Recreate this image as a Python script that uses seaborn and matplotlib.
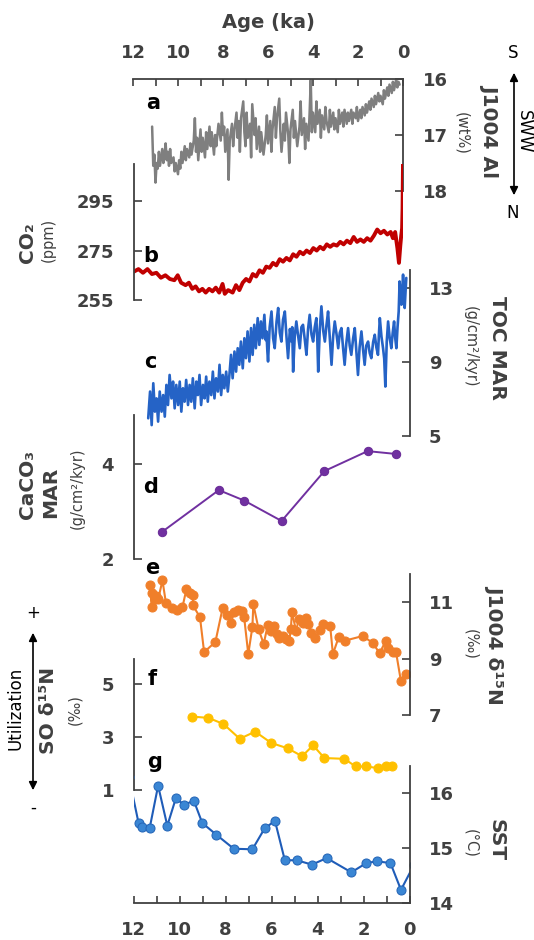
import seaborn as sns
import matplotlib.pyplot as plt
from matplotlib.patches import FancyArrowPatch

W, H = 534, 940

# ---------------- data (age in ka BP) ----------------
al_age = [11.15, 11.10, 11.05, 11.00, 10.95, 10.90, 10.85, 10.80, 10.70, 10.65, 10.60, 10.55, 10.50,
          10.45, 10.40, 10.35, 10.30, 10.20, 10.15, 10.10, 10.00, 9.95, 9.90, 9.85, 9.80, 9.70, 9.65,
          9.60, 9.50, 9.45, 9.40, 9.30, 9.25, 9.20, 9.15, 9.10, 9.00, 8.95, 8.90, 8.80, 8.75, 8.70,
          8.60, 8.55, 8.50, 8.40, 8.35, 8.30, 8.20, 8.10, 8.05, 8.00, 7.95, 7.90, 7.80, 7.75, 7.70,
          7.60, 7.55, 7.50, 7.40, 7.35, 7.30, 7.25, 7.20, 7.10, 7.05, 7.00, 6.95, 6.90, 6.80, 6.75,
          6.70, 6.60, 6.55, 6.50, 6.40, 6.35, 6.30, 6.20, 6.10, 6.05, 6.00, 5.90, 5.85, 5.80, 5.70,
          5.65, 5.60, 5.50, 5.45, 5.40, 5.30, 5.25, 5.20, 5.10, 5.05, 5.00, 4.90, 4.85, 4.80, 4.70,
          4.60, 4.55, 4.50, 4.40, 4.35, 4.30, 4.20, 4.15, 4.10, 4.05, 4.00, 3.90, 3.85, 3.80, 3.70,
          3.65, 3.60, 3.50, 3.45, 3.40, 3.30, 3.25, 3.20, 3.10, 3.05, 3.00, 2.90, 2.85, 2.80, 2.70,
          2.65, 2.60, 2.50, 2.45, 2.40, 2.30, 2.25, 2.20, 2.10, 2.05, 2.00, 1.90, 1.85, 1.80, 1.70,
          1.65, 1.60, 1.50, 1.45, 1.40, 1.30, 1.25, 1.20, 1.10, 1.05, 1.00, 0.90, 0.85, 0.80, 0.70,
          0.65, 0.60, 0.50, 0.45, 0.40, 0.30, 0.25, 0.20, 0.15]
al_wt = [16.85, 17.55, 17.35, 17.85, 17.50, 17.60, 17.30, 17.55, 17.25, 17.50, 17.35, 17.15, 17.45,
         17.30, 17.55, 17.25, 17.50, 17.40, 17.65, 17.50, 17.70, 17.45, 17.60, 17.30, 17.50, 17.20, 17.45,
         17.25, 17.40, 17.15, 17.35, 17.10, 16.70, 17.30, 17.05, 17.45, 16.90, 17.30, 17.05, 17.40, 16.95, 17.25,
         16.85, 17.20, 16.95, 17.35, 17.00, 17.20, 16.80, 17.10, 16.60, 17.00, 16.85, 17.30, 16.90, 17.80, 17.10,
         16.80, 17.20, 16.95, 16.60, 17.05, 16.75, 17.30, 16.70, 16.40, 16.95, 17.20, 16.60, 17.05, 16.80, 17.40,
         16.45, 17.00, 16.70, 17.25, 16.85, 17.30, 16.95, 17.35, 17.00, 16.65, 17.15, 16.75, 17.30, 16.90, 16.50,
         17.05, 16.70, 16.35, 16.95, 17.30, 16.80, 17.10, 16.60, 17.00, 17.50, 16.90, 16.55, 17.05, 16.75, 17.20,
         16.85, 16.40, 17.00, 16.70, 17.25, 16.80, 17.10, 16.60, 16.02, 16.95, 16.60, 16.95, 16.40, 16.80, 16.55,
         17.05, 16.65, 16.90, 16.50, 16.75, 16.95, 16.55, 16.85, 16.60, 16.90, 16.70, 16.95, 16.55, 16.80, 16.60,
         16.85, 16.55, 16.80, 16.60, 16.75, 16.55, 16.80, 16.60, 16.70, 16.50, 16.75, 16.55, 16.70, 16.50, 16.65,
         16.45, 16.60, 16.40, 16.55, 16.35, 16.50, 16.30, 16.45, 16.25, 16.40, 16.30, 16.45, 16.20, 16.35, 16.15,
         16.30, 16.10, 16.25, 16.05, 16.20, 16.00, 16.15, 16.05, 16.10]

co2_age = [12.0, 11.8, 11.6, 11.4, 11.2, 11.0, 10.8, 10.6, 10.4, 10.2, 10.05, 9.9, 9.7, 9.55, 9.4,
           9.25, 9.1, 8.95, 8.8, 8.65, 8.5, 8.35, 8.2, 8.05, 7.95, 7.8, 7.6, 7.45, 7.3, 7.15, 7.0,
           6.85, 6.7, 6.55, 6.4, 6.25, 6.1, 5.95, 5.8, 5.65, 5.5, 5.35, 5.2, 5.05, 4.9, 4.75, 4.6,
           4.45, 4.3, 4.15, 4.0, 3.85, 3.7, 3.55, 3.4, 3.25, 3.1, 2.95, 2.8, 2.65, 2.5, 2.35, 2.2,
           2.05, 1.9, 1.75, 1.6, 1.45, 1.3, 1.15, 1.0, 0.85, 0.7, 0.55, 0.45, 0.35, 0.25, 0.18,
           0.12, 0.08, 0.04, 0.02, 0.0]
co2_ppm = [266.5, 267.5, 266.0, 267.5, 265.5, 266.0, 264.0, 265.0, 263.5, 263.0, 265.0, 262.0, 261.0,
           262.0, 259.5, 260.5, 258.5, 259.5, 258.0, 259.5, 258.5, 260.0, 258.0, 261.5, 257.5, 259.0,
           258.0, 261.0, 259.0, 262.0, 263.5, 262.5, 265.5, 264.5, 267.0, 266.0, 268.5, 268.0, 270.0,
           269.0, 271.5, 270.5, 272.0, 271.0, 273.5, 272.5, 274.5, 273.5, 275.0, 274.0, 276.0, 275.0,
           276.5, 275.5, 277.5, 276.5, 277.5, 277.0, 278.5, 277.5, 279.0, 278.0, 280.5, 278.5, 279.5,
           278.5, 280.0, 279.0, 281.0, 283.5, 282.0, 283.0, 281.5, 282.5, 280.0, 282.5, 276.0, 270.0,
           277.0, 281.0, 284.0, 292.0, 310.0]

toc_age = [11.36, 11.28, 11.21, 11.14, 11.07, 11.00, 10.93, 10.86, 10.78, 10.71, 10.64, 10.57, 10.50,
           10.43, 10.35, 10.28, 10.21, 10.14, 10.06, 9.99, 9.92, 9.85, 9.78, 9.71, 9.63, 9.56, 9.49,
           9.42, 9.34, 9.27, 9.20, 9.13, 9.06, 8.98, 8.91, 8.84, 8.77, 8.70, 8.62, 8.55, 8.48, 8.41,
           8.33, 8.26, 8.19, 8.12, 8.05, 7.97, 7.90, 7.83, 7.76, 7.69, 7.61, 7.54, 7.47, 7.40, 7.33,
           7.25, 7.18, 7.11, 7.04, 6.96, 6.89, 6.82, 6.75, 6.68, 6.60, 6.53, 6.46, 6.39, 6.31, 6.25,
           6.22, 6.18, 6.15, 6.08, 6.00, 5.93, 5.86, 5.78, 5.71, 5.64, 5.57, 5.50, 5.42, 5.35, 5.28,
           5.20, 5.13, 5.10, 5.06, 4.99, 4.92, 4.85, 4.77, 4.70, 4.63, 4.55, 4.48, 4.41, 4.34, 4.26,
           4.19, 4.12, 4.05, 4.01, 3.97, 3.90, 3.83, 3.75, 3.68, 3.61, 3.54, 3.46, 3.39, 3.32, 3.25,
           3.17, 3.10, 3.03, 2.96, 2.89, 2.82, 2.75, 2.67, 2.60, 2.53, 2.45, 2.38, 2.31, 2.24, 2.17,
           2.09, 2.02, 1.95, 1.88, 1.80, 1.73, 1.66, 1.58, 1.51, 1.44, 1.37, 1.33, 1.29, 1.22, 1.15,
           1.10, 1.05, 0.99, 0.93, 0.86, 0.79, 0.73, 0.67, 0.62, 0.57, 0.52, 0.47, 0.45, 0.43, 0.39,
           0.35, 0.31, 0.28, 0.24, 0.21, 0.17, 0.14]
toc_mar = [5.96, 7.41, 5.59, 7.86, 6.32, 7.04, 5.78, 7.41, 6.32, 7.22, 6.05, 7.77, 6.68,
           8.31, 7.04, 7.95, 6.50, 7.77, 6.68, 7.95, 6.32, 7.59, 6.86, 8.04, 6.68, 7.77, 6.86,
           8.13, 6.50, 7.95, 7.22, 8.31, 6.68, 7.77, 7.04, 8.22, 6.86, 7.95, 7.22, 8.49, 7.04, 8.13,
           7.41, 8.86, 7.22, 8.31, 7.59, 8.49, 7.41, 8.31, 9.40, 8.13, 9.58, 8.49, 9.76, 8.86, 10.12,
           8.67, 10.30, 9.22, 10.67, 9.04, 10.85, 9.40, 11.03, 9.76, 11.39, 9.94, 11.21, 10.30, 11.57, 10.20,
           10.67, 9.60, 9.04, 10.90, 11.75, 10.30, 9.76, 11.20, 11.94, 10.60, 10.12, 11.30, 11.75, 10.40, 9.22,
           10.80, 10.12, 10.90, 8.49, 10.40, 11.21, 10.50, 9.76, 10.90, 11.03, 10.20, 9.40, 10.80, 11.57, 10.50,
           10.12, 10.90, 11.39, 10.30, 8.49, 10.80, 12.03, 10.70, 10.12, 11.00, 11.75, 10.20, 8.86, 10.40, 11.21,
           10.50, 9.76, 10.60, 10.85, 9.80, 8.86, 10.00, 10.85, 9.90, 9.40, 10.30, 10.85, 9.60, 8.31, 9.80,
           10.67, 9.70, 8.86, 9.90, 10.12, 9.50, 9.22, 10.10, 10.49, 9.80, 9.40, 10.50, 11.39, 10.40, 9.76,
           9.20, 7.68, 10.10, 11.21, 10.30, 9.76, 10.60, 11.21, 10.30, 9.76, 10.90, 11.75, 12.60, 13.38, 12.70,
           12.12, 13.00, 13.75, 12.80, 11.94, 12.90, 13.57]

caco3_age = [10.76, 8.29, 7.19, 5.56, 3.70, 1.82, 0.59]
caco3_mar = [2.57, 3.45, 3.23, 2.80, 3.85, 4.27, 4.21]

j1004_d15n_age = [11.30, 11.20, 11.20, 11.08, 11.01, 10.93, 10.74, 10.59, 10.34, 10.12, 9.87, 9.70, 9.53,
                  9.41, 9.42, 9.11, 8.93, 8.44, 8.12, 7.92, 7.75, 7.63, 7.45, 7.30, 7.19, 7.01, 6.83,
                  6.79, 6.56, 6.34, 6.16, 6.04, 5.90, 5.75, 5.67, 5.52, 5.38, 5.23, 5.16, 5.11, 4.93,
                  4.81, 4.64, 4.49, 4.41, 4.27, 4.12, 3.90, 3.75, 3.45, 3.33, 3.08, 2.79, 2.04, 1.60,
                  1.30, 1.04, 0.93, 0.71, 0.59, 0.37, 0.16]
j1004_d15n = [11.62, 10.83, 11.32, 11.13, 11.22, 11.10, 11.77, 10.97, 10.81, 10.71, 10.83, 11.46, 11.32,
              11.25, 10.89, 10.47, 9.23, 9.59, 10.81, 10.53, 10.28, 10.65, 10.71, 10.69, 10.47, 9.16, 10.13,
              10.93, 10.04, 9.52, 10.20, 9.98, 10.16, 9.86, 9.74, 9.80, 9.68, 9.62, 10.04, 10.65, 9.98,
              10.41, 10.28, 10.44, 10.22, 9.92, 9.74, 10.01, 10.22, 10.16, 9.16, 9.76, 9.64, 9.80, 9.56,
              9.19, 9.62, 9.37, 9.25, 9.25, 8.19, 8.47]

so_d15n_age = [9.45, 8.74, 8.09, 7.38, 6.71, 6.01, 5.30, 4.67, 4.19, 3.70, 2.83, 2.34, 1.90, 1.35, 1.04, 0.74]
so_d15n = [3.78, 3.73, 3.50, 2.94, 3.21, 2.78, 2.58, 2.28, 2.69, 2.21, 2.18, 1.89, 1.89, 1.83, 1.89, 1.89]

sst_age = [12.20, 11.78, 11.63, 11.30, 10.93, 10.53, 10.16, 9.79, 9.38, 9.01, 8.41, 7.64, 6.83,
           6.30, 5.85, 5.42, 4.90, 4.24, 3.60, 2.53, 1.87, 1.42, 0.83, 0.37, -0.20]
sst = [16.30, 15.46, 15.38, 15.36, 16.14, 15.41, 15.91, 15.79, 15.87, 15.46, 15.25, 14.99, 14.98,
       15.36, 15.50, 14.78, 14.78, 14.70, 14.82, 14.56, 14.73, 14.76, 14.73, 14.24, 14.70]

age_major = [12, 10, 8, 6, 4, 2, 0]
age_minor = [11, 9, 7, 5, 3, 1]

# ---------------- style ----------------
sns.set_style("white")
plt.rcParams['font.family'] = ['DejaVu Sans']
AX = '#404040'
TICK_FS = 13

fig = plt.figure(figsize=(W / 100, H / 100), dpi=100)


def panel(x0, x1, y0, y1, ylim, side, yticks):
    ax = fig.add_axes([x0 / W, 1 - y1 / H, (x1 - x0) / W, (y1 - y0) / H])
    ax.patch.set_visible(False)
    ax.set_xlim(12, 0)
    ax.set_ylim(*ylim)
    for s in ['top', 'bottom', 'left', 'right']:
        ax.spines[s].set_visible(s == side)
        ax.spines[s].set_color(AX)
        ax.spines[s].set_linewidth(1.3)
    ax.set_xticks([])
    if side == 'right':
        ax.yaxis.tick_right()
    else:
        ax.yaxis.tick_left()
    ax.set_yticks(yticks, labels=[str(t) for t in yticks], fontweight='bold')
    ax.tick_params(axis='y', direction='in', length=6, width=1.2, color=AX,
                   labelsize=TICK_FS, labelcolor=AX, pad=14)
    ax.set_xlabel('')
    ax.set_ylabel('')
    return ax


def age_axis(ax, where):
    ax.spines[where].set_visible(True)
    ax.spines[where].set_color(AX)
    ax.spines[where].set_linewidth(1.3)
    if where == 'top':
        ax.xaxis.tick_top()
    else:
        ax.xaxis.tick_bottom()
    ax.set_xticks(age_major, labels=[str(t) for t in age_major], fontweight='bold')
    ax.set_xticks(age_minor, minor=True)
    ax.tick_params(axis='x', which='both', direction='in', length=5, width=1.2, color=AX,
                   labelsize=TICK_FS, labelcolor=AX, pad=12 if where == 'top' else 13)


# a: J1004 Al
ax_a = panel(133, 403, 79, 191, (18, 16), 'right', [16, 17, 18])
sns.lineplot(x=al_age, y=al_wt, ax=ax_a, color='#7f7f7f', lw=1.8, estimator=None, sort=False)
age_axis(ax_a, 'top')
ax_a.set_ylim(18, 16)

# b: CO2
ax_b = panel(134, 403, 164, 300, (255, 310), 'left', [255, 275, 295])
sns.lineplot(x=co2_age, y=co2_ppm, ax=ax_b, color='#c00000', lw=2.8, estimator=None, sort=False)
ax_b.set_xticks([])

# c: TOC MAR
ax_c = panel(133.5, 409.5, 270, 436, (5, 14), 'right', [5, 9, 13])
sns.lineplot(x=toc_age, y=toc_mar, ax=ax_c, color='#2563c6', lw=1.9, estimator=None, sort=False)
ax_c.set_xticks([])

# d: CaCO3 MAR
ax_d = panel(133.5, 409.5, 415, 559, (2, 5.03), 'left', [2, 4])
sns.lineplot(x=caco3_age, y=caco3_mar, ax=ax_d, color='#7030a0', lw=1.4, marker='o', markersize=6,
             markeredgecolor='#6a2c98', estimator=None, sort=False)
ax_d.set_xticks([])

# e: J1004 d15N
ax_e = panel(133.5, 409.5, 574, 715, (7, 12), 'right', [7, 9, 11])
sns.lineplot(x=j1004_d15n_age, y=j1004_d15n, ax=ax_e, color='#f07f2a', lw=1.5, marker='o',
             markersize=6.5, markeredgecolor='#f07f2a', estimator=None, sort=False)
ax_e.set_xticks([])

# f: SO d15N
ax_f = panel(133.5, 409.5, 659, 790, (1, 5.96), 'left', [1, 3, 5])
sns.lineplot(x=so_d15n_age, y=so_d15n, ax=ax_f, color='#ffc000', lw=1.5, marker='o',
             markersize=6.5, markeredgecolor='#ffc000', estimator=None, sort=False)
ax_f.set_xticks([])

# g: SST
ax_g = panel(133.5, 409.5, 766, 903, (14, 16.5), 'right', [14, 15, 16])
sns.lineplot(x=sst_age, y=sst, ax=ax_g, color='#1f5cb8', lw=1.5, marker='o', markersize=6.5,
             markerfacecolor='#3a86d4', markeredgecolor='#2566b8', estimator=None, sort=False)
age_axis(ax_g, 'bottom')
ax_g.set_xlim(12, 0)

# panel letters
for letter, (px, py) in zip('abcdefg', [(153, 103), (151, 256), (150, 362), (151, 487),
                                        (152, 568), (152, 679), (155, 762)]):
    fig.text(px / W, 1 - py / H, letter, fontsize=15, fontweight='bold', color='black',
             ha='center', va='center')


def label(px, py, s, size, weight='bold', rot=90, color=AX):
    fig.text(px / W, 1 - py / H, s, fontsize=size, fontweight=weight, color=color,
             rotation=rot, ha='center', va='center', rotation_mode='anchor')


label(268, 22, 'Age (ka)', 14, rot=0)
label(490, 131, 'J1004 Al', 14.5, rot=270)
label(462, 133, '(wt%)', 10.5, weight='normal', rot=270)
label(28, 243, 'CO₂', 14.5)
label(48, 240, '(ppm)', 10.5, weight='normal')
label(497, 348, 'TOC MAR', 14.5, rot=270)
label(470, 347, '(g/cm²/kyr)', 10.5, weight='normal', rot=270)
label(27, 484, 'CaCO₃', 14.5)
label(51, 492, 'MAR', 14.5)
label(77, 488, '(g/cm²/kyr)', 10.5, weight='normal')
label(495, 644, 'J1004 δ¹⁵N', 14.5, rot=270)
label(471, 644, '(‰)', 10.5, weight='normal', rot=270)
label(48, 710, 'SO δ¹⁵N', 14.5)
label(75, 710, '(‰)', 10.5, weight='normal')
label(496, 840, 'SST', 14.5, rot=270)
label(471, 843, '(°C)', 10.5, weight='normal', rot=270)

# SWW arrow
label(513, 53, 'S', 12, weight='normal', rot=0, color='black')
label(513, 213, 'N', 12, weight='normal', rot=0, color='black')
label(524, 132, 'SWW', 12, weight='normal', rot=270, color='black')
fig.add_artist(FancyArrowPatch((514 / W, 1 - 70 / H), (514 / W, 1 - 198 / H), transform=fig.transFigure,
                               arrowstyle='<|-|>', mutation_scale=12, color='black', lw=1.2))

# utilization arrow
label(33, 613, '+', 12, weight='normal', rot=0, color='black')
label(33, 808, '-', 12, weight='normal', rot=0, color='black')
label(15, 708, 'Utilization', 12, weight='normal', color='black')
fig.add_artist(FancyArrowPatch((33 / W, 1 - 630 / H), (33 / W, 1 - 793 / H), transform=fig.transFigure,
                               arrowstyle='<|-|>', mutation_scale=12, color='black', lw=1.2))

plt.savefig('out.png', dpi=100)
plt.close()
